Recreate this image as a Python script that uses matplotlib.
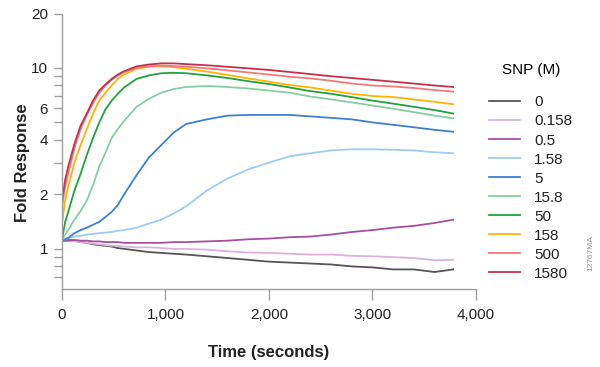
import matplotlib
matplotlib.use('Agg')
import matplotlib.pyplot as plt
from matplotlib.ticker import FixedLocator, NullFormatter, FuncFormatter

plt.rcParams['font.family'] = ['Liberation Sans', 'DejaVu Sans']

# time points (seconds)
time_s = [0, 30, 60, 120, 180, 240, 300, 360, 420, 480, 540, 600, 720, 840, 960, 1080, 1200,
          1400, 1600, 1800, 2000, 2200, 2400, 2600, 2800, 3000, 3200, 3400, 3600, 3780]

snp_labels = ['0', '0.158', '0.5', '1.58', '5', '15.8', '50', '158', '500', '1580']

fold_0 = [1.10, 1.11, 1.12, 1.11, 1.09, 1.08, 1.06, 1.05, 1.04, 1.03, 1.01, 1.00, 0.98, 0.96, 0.95, 0.94, 0.93,
          0.91, 0.89, 0.87, 0.85, 0.84, 0.83, 0.82, 0.80, 0.79, 0.77, 0.77, 0.745, 0.77]
fold_0158 = [1.10, 1.11, 1.11, 1.10, 1.09, 1.08, 1.07, 1.06, 1.05, 1.04, 1.04, 1.03, 1.02, 1.02, 1.01, 1.00, 1.00,
             0.99, 0.97, 0.955, 0.95, 0.94, 0.93, 0.93, 0.915, 0.91, 0.90, 0.89, 0.865, 0.87]
fold_05 = [1.10, 1.11, 1.11, 1.12, 1.11, 1.11, 1.10, 1.10, 1.09, 1.09, 1.09, 1.08, 1.08, 1.08, 1.08, 1.09, 1.09,
           1.10, 1.11, 1.13, 1.14, 1.16, 1.17, 1.20, 1.24, 1.27, 1.31, 1.34, 1.39, 1.45]
fold_158 = [1.10, 1.13, 1.15, 1.17, 1.18, 1.20, 1.21, 1.22, 1.23, 1.24, 1.26, 1.27, 1.31, 1.38, 1.45, 1.57, 1.72,
            2.10, 2.45, 2.75, 3.00, 3.25, 3.38, 3.50, 3.55, 3.55, 3.53, 3.50, 3.42, 3.38]
fold_5 = [1.10, 1.13, 1.15, 1.22, 1.27, 1.31, 1.36, 1.41, 1.50, 1.60, 1.75, 2.00, 2.55, 3.20, 3.75, 4.40, 4.90,
          5.20, 5.45, 5.50, 5.50, 5.50, 5.40, 5.30, 5.20, 5.00, 4.85, 4.70, 4.55, 4.44]
fold_158b = [1.12, 1.20, 1.27, 1.45, 1.62, 1.85, 2.25, 2.85, 3.40, 4.10, 4.60, 5.10, 6.10, 6.75, 7.30, 7.65, 7.85,
             7.95, 7.85, 7.70, 7.50, 7.30, 6.95, 6.70, 6.45, 6.20, 5.95, 5.70, 5.45, 5.27]
fold_50 = [1.13, 1.40, 1.60, 2.10, 2.60, 3.30, 4.10, 5.00, 5.90, 6.60, 7.20, 7.80, 8.70, 9.10, 9.35, 9.40, 9.35,
           9.10, 8.80, 8.45, 8.15, 7.80, 7.45, 7.20, 6.90, 6.60, 6.35, 6.10, 5.85, 5.60]
fold_158c = [1.37, 1.85, 2.20, 3.00, 3.75, 4.60, 5.60, 6.60, 7.30, 8.00, 8.70, 9.20, 9.90, 10.15, 10.20, 10.10, 9.90,
             9.55, 9.15, 8.75, 8.40, 8.05, 7.80, 7.50, 7.20, 7.00, 6.90, 6.70, 6.50, 6.30]
fold_500 = [1.70, 2.20, 2.60, 3.60, 4.60, 5.50, 6.40, 7.30, 8.00, 8.60, 9.10, 9.50, 10.00, 10.20, 10.30, 10.25, 10.15,
            9.95, 9.70, 9.45, 9.20, 8.95, 8.75, 8.50, 8.20, 8.00, 7.90, 7.75, 7.55, 7.40]
fold_1580 = [1.85, 2.40, 2.85, 3.80, 4.80, 5.60, 6.60, 7.50, 8.10, 8.70, 9.20, 9.60, 10.20, 10.45, 10.60, 10.60, 10.50,
             10.35, 10.15, 9.95, 9.75, 9.50, 9.25, 9.00, 8.80, 8.60, 8.40, 8.20, 8.00, 7.85]

series = [fold_0, fold_0158, fold_05, fold_158, fold_5, fold_158b, fold_50, fold_158c, fold_500, fold_1580]
colors = ['#555555', '#dcb2dc', '#a4509f', '#a0cbf0', '#3d80cf', '#84cfa0', '#22a03c', '#ffb400',
          '#f07a78', '#c7304b']

fig = plt.figure(figsize=(6, 3.67), dpi=100)
ax = fig.add_axes([0.1033, 0.2125, 0.69, 0.7507])

for vals, lab, col in zip(series, snp_labels, colors):
    ax.plot(time_s, vals, color=col, lw=1.3, label=lab)

ax.set_yscale('log')
ax.set_ylim(0.6, 20)
ax.set_xlim(0, 4000)

ax.yaxis.set_major_locator(FixedLocator([1, 2, 4, 6, 10, 20]))
ax.yaxis.set_major_formatter(FuncFormatter(lambda v, p: '%g' % v))
ax.yaxis.set_minor_locator(FixedLocator([0.7, 0.8, 0.9, 3, 5, 7, 8, 9]))
ax.yaxis.set_minor_formatter(NullFormatter())
ax.set_xticks([0, 1000, 2000, 3000, 4000])
ax.xaxis.set_major_formatter(FuncFormatter(lambda v, p: '{:,.0f}'.format(v)))

for s in ['top', 'right']:
    ax.spines[s].set_visible(False)
for s in ['left', 'bottom']:
    ax.spines[s].set_color('#a0a0a0')
    ax.spines[s].set_linewidth(1.0)

ax.tick_params(axis='y', which='both', direction='out', length=6, width=1, color='#a0a0a0',
               labelsize=11, labelcolor='#222222', pad=4)
ax.tick_params(axis='x', which='both', direction='out', length=8, width=1, color='#a0a0a0',
               labelsize=11, labelcolor='#222222', pad=6)

ax.set_xlabel('Time (seconds)', fontsize=12, fontweight='bold', color='#222222')
ax.set_ylabel('Fold Response', fontsize=12, fontweight='bold', color='#222222')
ax.xaxis.set_label_coords(0.5, -0.205)
ax.yaxis.set_label_coords(-0.078, 0.46)

leg = ax.legend(title='SNP (M)', loc='upper left', bbox_to_anchor=(0.805, 0.844),
                bbox_transform=fig.transFigure, frameon=False, fontsize=11,
                title_fontsize=11, handlelength=2.0, handletextpad=0.95, labelspacing=0.33,
                borderaxespad=0)
leg._legend_box.sep = 13
for t in leg.get_texts():
    t.set_color('#222222')

fig.text(0.985, 0.31, '12767MA', rotation=90, fontsize=6, color='#999999', ha='center', va='center')

fig.savefig('out.png', dpi=100)
